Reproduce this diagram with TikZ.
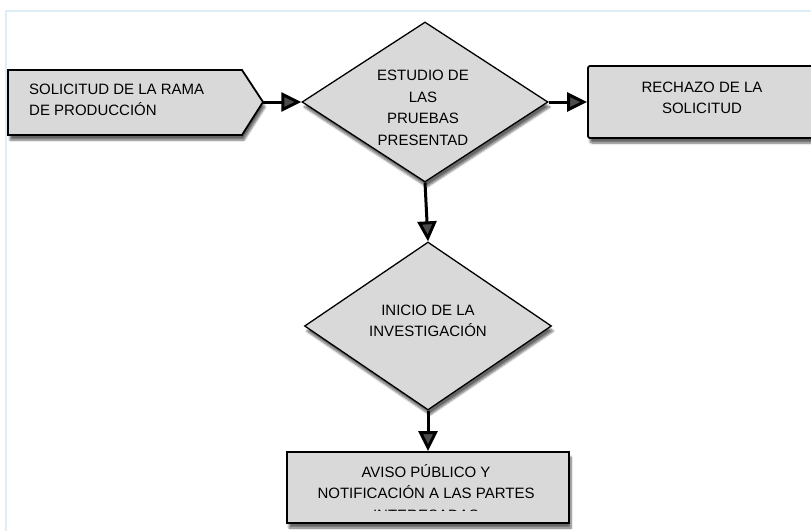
\documentclass[tikz,border=0pt]{standalone}
\usepackage{fontspec}
\setmainfont{Liberation Sans}
\usetikzlibrary{shapes.geometric,shadows.blur,arrows.meta}
\definecolor{boxgrey}{HTML}{D9D9D9}
\definecolor{framebl}{HTML}{DDEEF7}
\begin{document}
\begin{tikzpicture}[x=1pt,y=-1pt,
  shd/.style={blur shadow={shadow xshift=2pt, shadow yshift=-5pt, shadow blur steps=6, shadow opacity=60}},
  dia/.style={diamond, draw=black, fill=boxgrey, line width=1.3pt, inner sep=0pt, shd},
  box/.style={rectangle, draw=black, fill=boxgrey, line width=1.8pt, inner sep=0pt, shd},
  txt/.style={font=\fontsize{15}{21.5}\selectfont, align=center, inner sep=0pt},
  conn/.style={line width=3pt, -{Triangle[length=20pt,width=19pt]}}]
\useasboundingbox (0,0) rectangle (811,530);
% frame
\draw[framebl, line width=2pt] (6,540) -- (6,11) -- (820,11);
% left pentagon box
\draw[line width=1.8pt, fill=boxgrey, shd] (8,70) -- (242,70) -- (263,102) -- (242,135) -- (8,135) -- cycle;
\coordinate (soltip) at (263,102);
\node[txt, align=left, anchor=west] (sol) at (29,100) {SOLICITUD DE LA RAMA\\DE PRODUCCIÓN};
% diamond 1
\node[dia, minimum width=246pt, minimum height=160pt] (d1) at (425,102) {};
\node[txt] (d1t) at (423,108) {ESTUDIO DE\\LAS\\PRUEBAS\\PRESENTAD};
% rect 2
\node[box, rounded corners=2pt, minimum width=228pt, minimum height=72pt] (r2) at (702,102) {};
\node[txt] (r2t) at (702,98) {RECHAZO DE LA\\SOLICITUD};
% diamond 2
\node[dia, minimum width=247pt, minimum height=168pt] (d2) at (428,326) {};
\node[txt] (d2t) at (428,321) {INICIO DE LA\\INVESTIGACIÓN};
% rect 3
\node[box, minimum width=282pt, minimum height=71pt] (r3) at (428,487.5) {};
\begin{scope}
\clip (287,452) rectangle (569,510.5);
\node[txt, anchor=north] (r3t) at (426,464) {AVISO PÚBLICO Y\\NOTIFICACIÓN A LAS PARTES\\INTERESADAS};
\end{scope}
% connectors
\draw[conn] (soltip) -- (d1.west);
\draw[conn] (d1.east) -- (r2.west);
\draw[conn] (d1.south) -- (d2.north);
\draw[conn] (d2.south) -- (r3.north);
\end{tikzpicture}
\end{document}
